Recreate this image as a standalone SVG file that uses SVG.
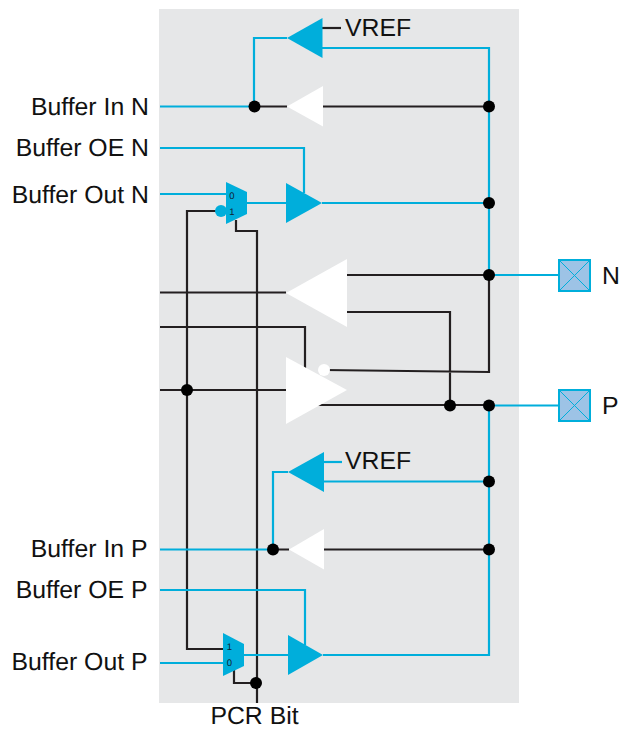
<svg xmlns="http://www.w3.org/2000/svg" width="619" height="729" viewBox="0 0 619 729">
<style>
.k{fill:none;stroke:#231f20;stroke-width:2.200}
.b{fill:none;stroke:#00aedb;stroke-width:2.200}
.bf{fill:#00aedb}
.wf{fill:#fff}
.dot{fill:#000}
.pad{fill:#9dc3e6;stroke:#00aedb;stroke-width:2}
.padx{fill:none;stroke:#00aedb;stroke-width:1}
text{font-family:"Liberation Sans",Arial,sans-serif;fill:#111;text-rendering:geometricPrecision}
.l{font-size:24.800px}
.e{text-anchor:end}
.m{font-size:9.500px;fill:#123;text-anchor:middle}
</style>
<rect id="panel" x="159" y="9" width="360" height="694" fill="#e6e7e8"/>
<g id="connectors">
<path class="k" d="M254 106.500H287M323 106.500H489"/>
<path class="k" d="M322 28H341"/>
<path class="k" d="M220 211H187V649H223"/>
<path class="k" d="M236 220V231H257V703"/>
<path class="k" d="M160 292.500H286M347 275H489V372L324 370M347 312H450V405"/>
<path class="k" d="M160 327H305V368"/>
<path class="k" d="M160 390H286M318 405H489"/>
<path class="k" d="M273 549.500H289M324 549.500H489"/>
<path class="k" d="M234 670V683H256"/>
<path class="b" d="M160 106.500H254V38H287"/>
<path class="b" d="M322 48H489V275"/>
<path class="b" d="M160 148H304V193"/>
<path class="b" d="M160 194H226"/>
<path class="b" d="M247 203H286M322 203H489"/>
<path class="b" d="M489 275H558M489 405.500H558"/>
<path class="b" d="M489 405V655H323"/>
<path class="b" d="M324 462H342"/>
<path class="b" d="M324 481.500H489"/>
<path class="b" d="M160 549.500H273V472H288"/>
<path class="b" d="M160 590H305V645"/>
<path class="b" d="M160 663H223"/>
<path class="b" d="M244 655H288"/>
</g>
<g id="buf-vref-n"><polygon class="bf" points="287,38 322.500,18 322.500,58"/><text class="l" x="345" y="36">VREF</text></g>
<g id="buf-in-n"><polygon class="wf" points="287,106.500 323,86 323,126.500"/></g>
<g id="mux-n"><circle class="bf" cx="221" cy="211" r="6"/><polygon class="bf" points="226,182 247,192 247,214 226,224"/><text class="m" x="232" y="198.500">0</text><text class="m" x="232" y="215">1</text></g>
<g id="buf-out-n"><polygon class="bf" points="286,183 322,203 286,223"/></g>
<g id="buf-rx"><polygon class="wf" points="286,293 347,259 347,327"/></g>
<g id="buf-tx"><polygon class="wf" points="286,357 347,390 286,424"/><circle class="wf" cx="324" cy="370" r="6"/></g>
<g id="buf-vref-p"><polygon class="bf" points="288,472 324,452 324,492"/><text class="l" x="345" y="469">VREF</text></g>
<g id="buf-in-p"><polygon class="wf" points="289,549.500 324,529 324,569.500"/></g>
<g id="mux-p"><polygon class="bf" points="223,633 244,644 244,666 223,676"/><text class="m" x="229.500" y="650">1</text><text class="m" x="229.500" y="666">0</text></g>
<g id="buf-out-p"><polygon class="bf" points="288,635 323,655 288,675"/></g>
<g id="dots">
<circle class="dot" cx="254.500" cy="106.500" r="6"/>
<circle class="dot" cx="489" cy="106.500" r="6"/>
<circle class="dot" cx="489" cy="203" r="6"/>
<circle class="dot" cx="489" cy="275" r="6"/>
<circle class="dot" cx="187" cy="390" r="6"/>
<circle class="dot" cx="450" cy="405.500" r="6"/>
<circle class="dot" cx="489" cy="405.500" r="6"/>
<circle class="dot" cx="489" cy="481.500" r="6"/>
<circle class="dot" cx="489" cy="549.500" r="6"/>
<circle class="dot" cx="273" cy="549.500" r="6"/>
<circle class="dot" cx="256" cy="683" r="6"/>
</g>
<g id="pad-n"><rect class="pad" x="559" y="260" width="31" height="31"/><path class="padx" d="M559 260L590 291M590 260L559 291"/><text class="l" x="602" y="284">N</text></g>
<g id="pad-p"><rect class="pad" x="559" y="390" width="31" height="31"/><path class="padx" d="M559 390L590 421M590 390L559 421"/><text class="l" x="602" y="414">P</text></g>
<g id="labels">
<text class="l e" x="149" y="115">Buffer In N</text>
<text class="l e" x="149" y="156">Buffer OE N</text>
<text class="l e" x="149" y="203">Buffer Out N</text>
<text class="l e" x="147.500" y="557">Buffer In P</text>
<text class="l e" x="147.500" y="598">Buffer OE P</text>
<text class="l e" x="147.500" y="670">Buffer Out P</text>
<text class="l" x="254.500" y="723.500" text-anchor="middle">PCR Bit</text>
</g>
</svg>
